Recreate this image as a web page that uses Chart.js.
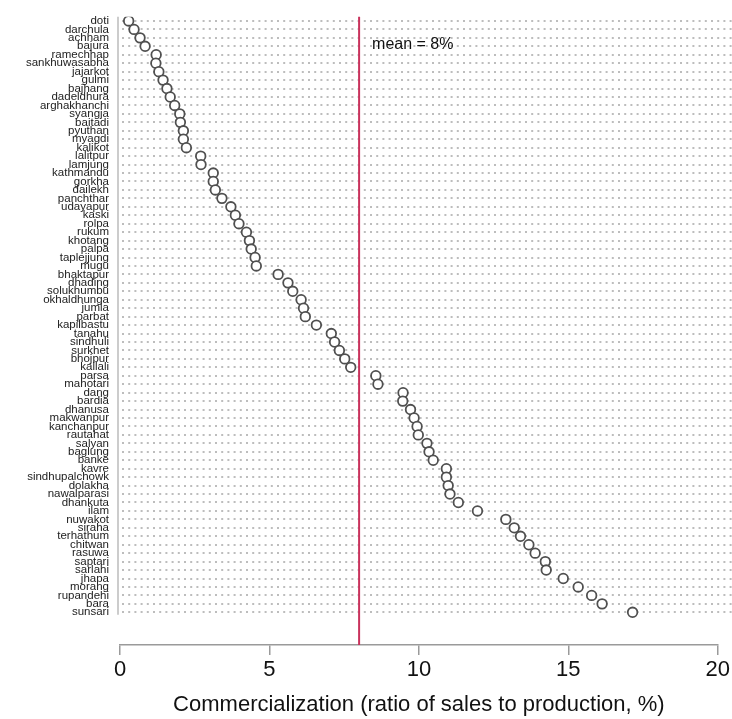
<!DOCTYPE html>
<html>
<head>
<meta charset="utf-8">
<title>Commercialization by district</title>
<script src="https://cdn.jsdelivr.net/npm/chart.js@4/dist/chart.umd.min.js"></script>
<style>
  html, body { margin: 0; padding: 0; background: #fff; }
  #wrap { width: 732px; height: 719px; }
</style>
</head>
<body>
<div id="wrap"><canvas id="commercialChart"></canvas></div>
<script>
// districts, sorted from lowest to highest
const districts = [
  'doti', 'darchula', 'achham', 'bajura', 'ramechhap', 'sankhuwasabha', 'jajarkot', 'gulmi',
  'bajhang', 'dadeldhura', 'arghakhanchi', 'syangja', 'baitadi', 'pyuthan', 'myagdi', 'kalikot',
  'lalitpur', 'lamjung', 'kathmandu', 'gorkha', 'dailekh', 'panchthar', 'udayapur', 'kaski',
  'rolpa', 'rukum', 'khotang', 'palpa', 'taplejjung', 'mugu', 'bhaktapur', 'dhading',
  'solukhumbu', 'okhaldhunga', 'jumla', 'parbat', 'kapilbastu', 'tanahu', 'sindhuli', 'surkhet',
  'bhojpur', 'kailali', 'parsa', 'mahotari', 'dang', 'bardia', 'dhanusa', 'makwanpur',
  'kanchanpur', 'rautahat', 'salyan', 'baglung', 'banke', 'kavre', 'sindhupalchowk', 'dolakha',
  'nawalparasi', 'dhankuta', 'ilam', 'nuwakot', 'siraha', 'terhathum', 'chitwan', 'rasuwa',
  'saptari', 'sarlahi', 'jhapa', 'morang', 'rupandehi', 'bara', 'sunsari'
]

// ratio of sales to production, %
const commercialization = [
  0.29, 0.47, 0.67, 0.84, 1.21, 1.2, 1.3, 1.44,
  1.57, 1.68, 1.83, 2.0, 2.02, 2.12, 2.12, 2.22,
  2.7, 2.71, 3.12, 3.12, 3.19, 3.41, 3.71, 3.86,
  3.98, 4.23, 4.33, 4.39, 4.52, 4.56, 5.29, 5.62,
  5.78, 6.06, 6.14, 6.2, 6.57, 7.07, 7.18, 7.34,
  7.52, 7.72, 8.56, 8.63, 9.47, 9.46, 9.72, 9.84,
  9.94, 9.98, 10.27, 10.34, 10.48, 10.92, 10.92, 10.98,
  11.04, 11.32, 11.96, 12.91, 13.19, 13.4, 13.68, 13.89,
  14.23, 14.26, 14.83, 15.33, 15.78, 16.13, 17.15
]

const xTicks = [0, 5, 10, 15, 20]
const meanValue = 8
const meanLabel = 'mean = 8%'
const axisTitle = 'Commercialization (ratio of sales to production, %)'

const fontFamily = '"Liberation Sans", Arial, sans-serif'

/**
 * Dotted row lines, the left axis line and the mean line.
 */
const dotPlotDecor = {
  id: 'dotPlotDecor',
  beforeDatasetsDraw (chart) {
    const { ctx, chartArea, scales } = chart
    const x = scales.x
    const y = scales.y

    ctx.save()
    // dotted guide for every row, running off to the canvas edge
    ctx.strokeStyle = '#bdbdbd'
    ctx.lineWidth = 2
    ctx.setLineDash([2, 4.2])
    districts.forEach((d, i) => {
      const py = Math.round(y.getPixelForValue(i))
      ctx.beginPath()
      ctx.moveTo(chartArea.left + 2, py)
      ctx.lineTo(chart.width, py)
      ctx.stroke()
    })
    ctx.setLineDash([])

    // left axis line only spans the rows
    ctx.strokeStyle = '#bbbbbb'
    ctx.lineWidth = 1.5
    ctx.beginPath()
    ctx.moveTo(chartArea.left - 2, y.getPixelForValue(-0.5))
    ctx.lineTo(chartArea.left - 2, y.getPixelForValue(districts.length - 0.7))
    ctx.stroke()

    // mean line
    const mx = x.getPixelForValue(meanValue)
    ctx.strokeStyle = '#c9325c'
    ctx.lineWidth = 2
    ctx.beginPath()
    ctx.moveTo(mx, chartArea.top)
    ctx.lineTo(mx, chartArea.bottom)
    ctx.stroke()

    ctx.fillStyle = '#111'
    ctx.font = '16px ' + fontFamily
    ctx.textAlign = 'left'
    ctx.textBaseline = 'middle'
    ctx.fillText(meanLabel, mx + 13, y.getPixelForValue(2.8))
    ctx.restore()
  }
}

/**
 *
 */
function renderDotPlot () {
  const ctx = document.getElementById('commercialChart').getContext('2d')

  window.myChart = new Chart(ctx, {
    type: 'scatter',
    data: {
      datasets: [{
        label: 'Commercialization',
        data: commercialization.map((v, i) => ({ x: v, y: i })),
        pointRadius: 4.8,
        pointBorderWidth: 1.8,
        borderColor: '#505050',
        backgroundColor: '#ffffff'
      }]
    },
    options: {
      responsive: true,
      maintainAspectRatio: false,
      animation: false,
      layout: { padding: { top: 15, right: 12, bottom: 0, left: 0 } },
      plugins: {
        legend: { display: false },
        tooltip: { enabled: false }
      },
      scales: {
        x: {
          type: 'linear',
          min: xTicks[0],
          max: xTicks[xTicks.length - 1],
          afterBuildTicks: (scale) => {
            scale.ticks = xTicks.map(v => ({ value: v }))
          },
          afterFit: (scale) => {
            scale.height = 74
          },
          border: { display: true, color: '#9a9a9a', width: 1.5 },
          grid: { display: true, drawOnChartArea: false, drawTicks: true, tickLength: 10, color: '#9a9a9a', lineWidth: 1.5 },
          ticks: { color: '#111', padding: 2, font: { family: fontFamily, size: 22 } },
          title: {
            display: true,
            text: axisTitle,
            color: '#111',
            padding: { top: 0, bottom: 1 },
            font: { family: fontFamily, size: 22 }
          }
        },
        y: {
          type: 'linear',
          reverse: true,
          min: -0.5,
          max: 73.87,
          afterBuildTicks: (scale) => {
            scale.ticks = districts.map((d, i) => ({ value: i }))
          },
          afterFit: (scale) => {
            scale.width = 120
          },
          border: { display: false },
          grid: { display: false, drawTicks: false },
          ticks: {
            autoSkip: false,
            padding: 11,
            color: '#222',
            font: { family: fontFamily, size: 11.5, lineHeight: 1 },
            callback: (value) => districts[value] || ''
          }
        }
      }
    },
    plugins: [dotPlotDecor]
  })
}

document.addEventListener('DOMContentLoaded', () => {
  renderDotPlot()
})
</script>
</body>
</html>
